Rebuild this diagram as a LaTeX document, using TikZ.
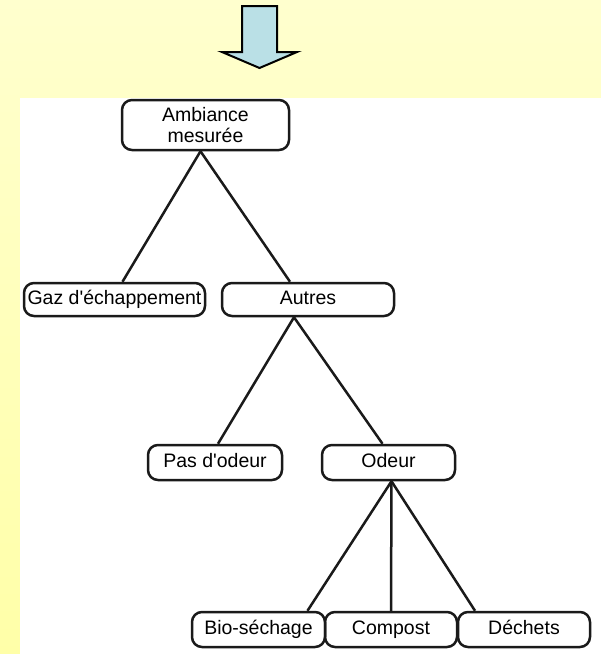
\documentclass[tikz,border=0pt]{standalone}
\usepackage{fontspec}
\setmainfont{Liberation Sans}
\usetikzlibrary{arrows.meta,positioning}
\definecolor{bgtop}{RGB}{255,255,206}
\definecolor{bgbot}{RGB}{255,255,168}
\definecolor{arrowfill}{RGB}{186,224,230}
\definecolor{edge}{RGB}{26,26,26}

\begin{document}
\begin{tikzpicture}[x=1pt,y=-1pt,font=\fontsize{19.5}{21}\selectfont,
  box/.style={draw=edge,line width=2.5pt,rounded corners=10pt,inner sep=0pt,align=center},
  leaf/.style={box,text height=14pt,text depth=4pt},
  conn/.style={draw=edge,line width=2.5pt}]
\useasboundingbox (0,0) rectangle (601,654);
\shade[top color=bgtop,bottom color=bgbot] (0,0) rectangle (601,654);
\fill[white] (20,98) rectangle (601,654);
% arrow on top
\draw[fill=arrowfill,line width=2pt] (242,6) -- (277,6) -- (277,52) -- (297,52) -- (259.5,68) -- (222,52) -- (242,52) -- cycle;
% boxes
\node[box,minimum width=167,minimum height=50] (amb) at (205.5,125) {Ambiance\\mesurée};
\foreach \n/\x/\y/\w/\h/\t in {gaz/114.5/299.5/181/33/{Gaz d\textquotesingle échappement},
    aut/308/299.5/172/33/Autres,
    pas/215/462.5/134/35/{Pas d\textquotesingle odeur},
    ode/388.5/462.5/133/35/Odeur,
    bio/258.5/629.5/133/35/Bio-séchage,
    com/391/629.5/132/35/Compost,
    dec/524/629.5/132/35/Déchets}
  \node[leaf,minimum width=\w,minimum height=\h] (\n) at (\x,\y) {\t};
% links
\foreach \a/\da/\b/\db in {amb/-5/gaz/8,amb/-5/aut/-18,aut/-14/pas/3,aut/-14/ode/-6,
    ode/3/bio/49,ode/3/com/0,ode/3/dec/-49}
  \draw[conn] ([xshift=\da]\a.south) -- ([xshift=\db]\b.north);
\end{tikzpicture}
\end{document}
